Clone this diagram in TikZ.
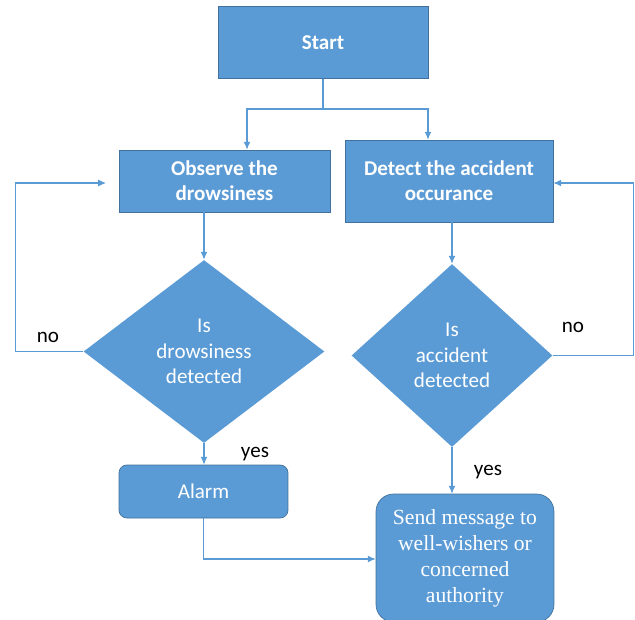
\documentclass[tikz,border=0pt]{standalone}
\usepackage{fontspec}
\usepackage{tikz}
\usetikzlibrary{arrows, arrows.meta, positioning, shapes.geometric, calc}
\newfontfamily\calibrifont{Carlito}
\newfontfamily\tnrfont{Liberation Serif}
\definecolor{boxblue}{HTML}{5B9BD5}
\definecolor{rimblue}{HTML}{41719C}
\tikzset{%
	proc/.style={draw=rimblue, fill=boxblue, rectangle, text=white, align=center,%
		inner sep=0mm, font=\calibrifont\bfseries\fontsize{12}{14.4}\selectfont},
	act/.style={proc, rounded corners=4.5pt, font=\calibrifont\fontsize{12}{14.4}\selectfont},
	msg/.style={proc, rounded corners=10pt, font=\tnrfont\fontsize{12.3}{14.8}\selectfont},
	dec/.style={fill=boxblue, diamond, text=white, align=center, inner sep=0mm,%
		font=\calibrifont\fontsize{12}{14.6}\selectfont},
	connector/.style={draw=boxblue, line width=0.6pt},
	sel/.style={connector, -{Latex[length=4.5pt,width=4pt]}},
	answer/.style={inner sep=0mm, font=\calibrifont\fontsize{12}{14.4}\selectfont}
}

\begin{document}
\begin{tikzpicture}[x=0.02cm, y=-0.02cm]
	\useasboundingbox (0,0) rectangle (635,619);
	\node[proc, minimum width=4.2cm, minimum height=1.44cm]   (start) at (323,42.5) {Start};
	\node[proc, minimum width=4.22cm, minimum height=1.24cm]  (obs)   at (224.5,181) {Observe the\\drowsiness};
	\node[proc, minimum width=4.16cm, minimum height=1.64cm]  (det)   at (449,181) {Detect the accident\\occurance};
	\node[dec, minimum width=4.82cm, minimum height=3.66cm]   (dia1)  at (204,351.5) {Is\\drowsiness\\detected};
	\node[dec, minimum width=4.02cm, minimum height=3.66cm]   (dia2)  at (452,355.5) {Is\\accident\\detected};
	\node[act, minimum width=3.38cm, minimum height=1.06cm]   (alarm) at (203.5,491.5) {Alarm};
	\node[msg, minimum width=3.56cm, minimum height=2.56cm]   (send)  at (465,558) {Send message to\\well-wishers or\\concerned\\authority};
	\node[answer] (no1)  at (48,337)  {no};
	\node[answer] (no2)  at (573,327) {no};
	\node[answer] (yes1) at (255,454) {yes};
	\node[answer] (yes2) at (488,472) {yes};
	\coordinate (split)  at (323,109);
	\coordinate (loopin) at (106,183);
	\draw[connector] (start.south) -- (split);
	\draw[sel] (split) -| ([xshift=0.45cm]obs.north);
	\draw[sel] (split) -| ([xshift=-0.42cm]det.north);
	\draw[sel] (dia1.north |- obs.south) -- (dia1.north);
	\draw[sel] (dia2.north |- det.south) -- (dia2.north);
	\draw[sel] (dia1.south) -- (dia1.south |- alarm.north);
	\draw[sel] (dia2.south) -- (dia2.south |- send.north);
	\draw[sel] (alarm.south) |- ([yshift=-0.02cm]send.west);
	\draw[sel] (dia1.west) -- ++(-68,0) |- (loopin);
	\draw[sel] (dia2.east) -- ++(81,0) |- ([yshift=-0.04cm]det.east);
\end{tikzpicture}
\end{document}
